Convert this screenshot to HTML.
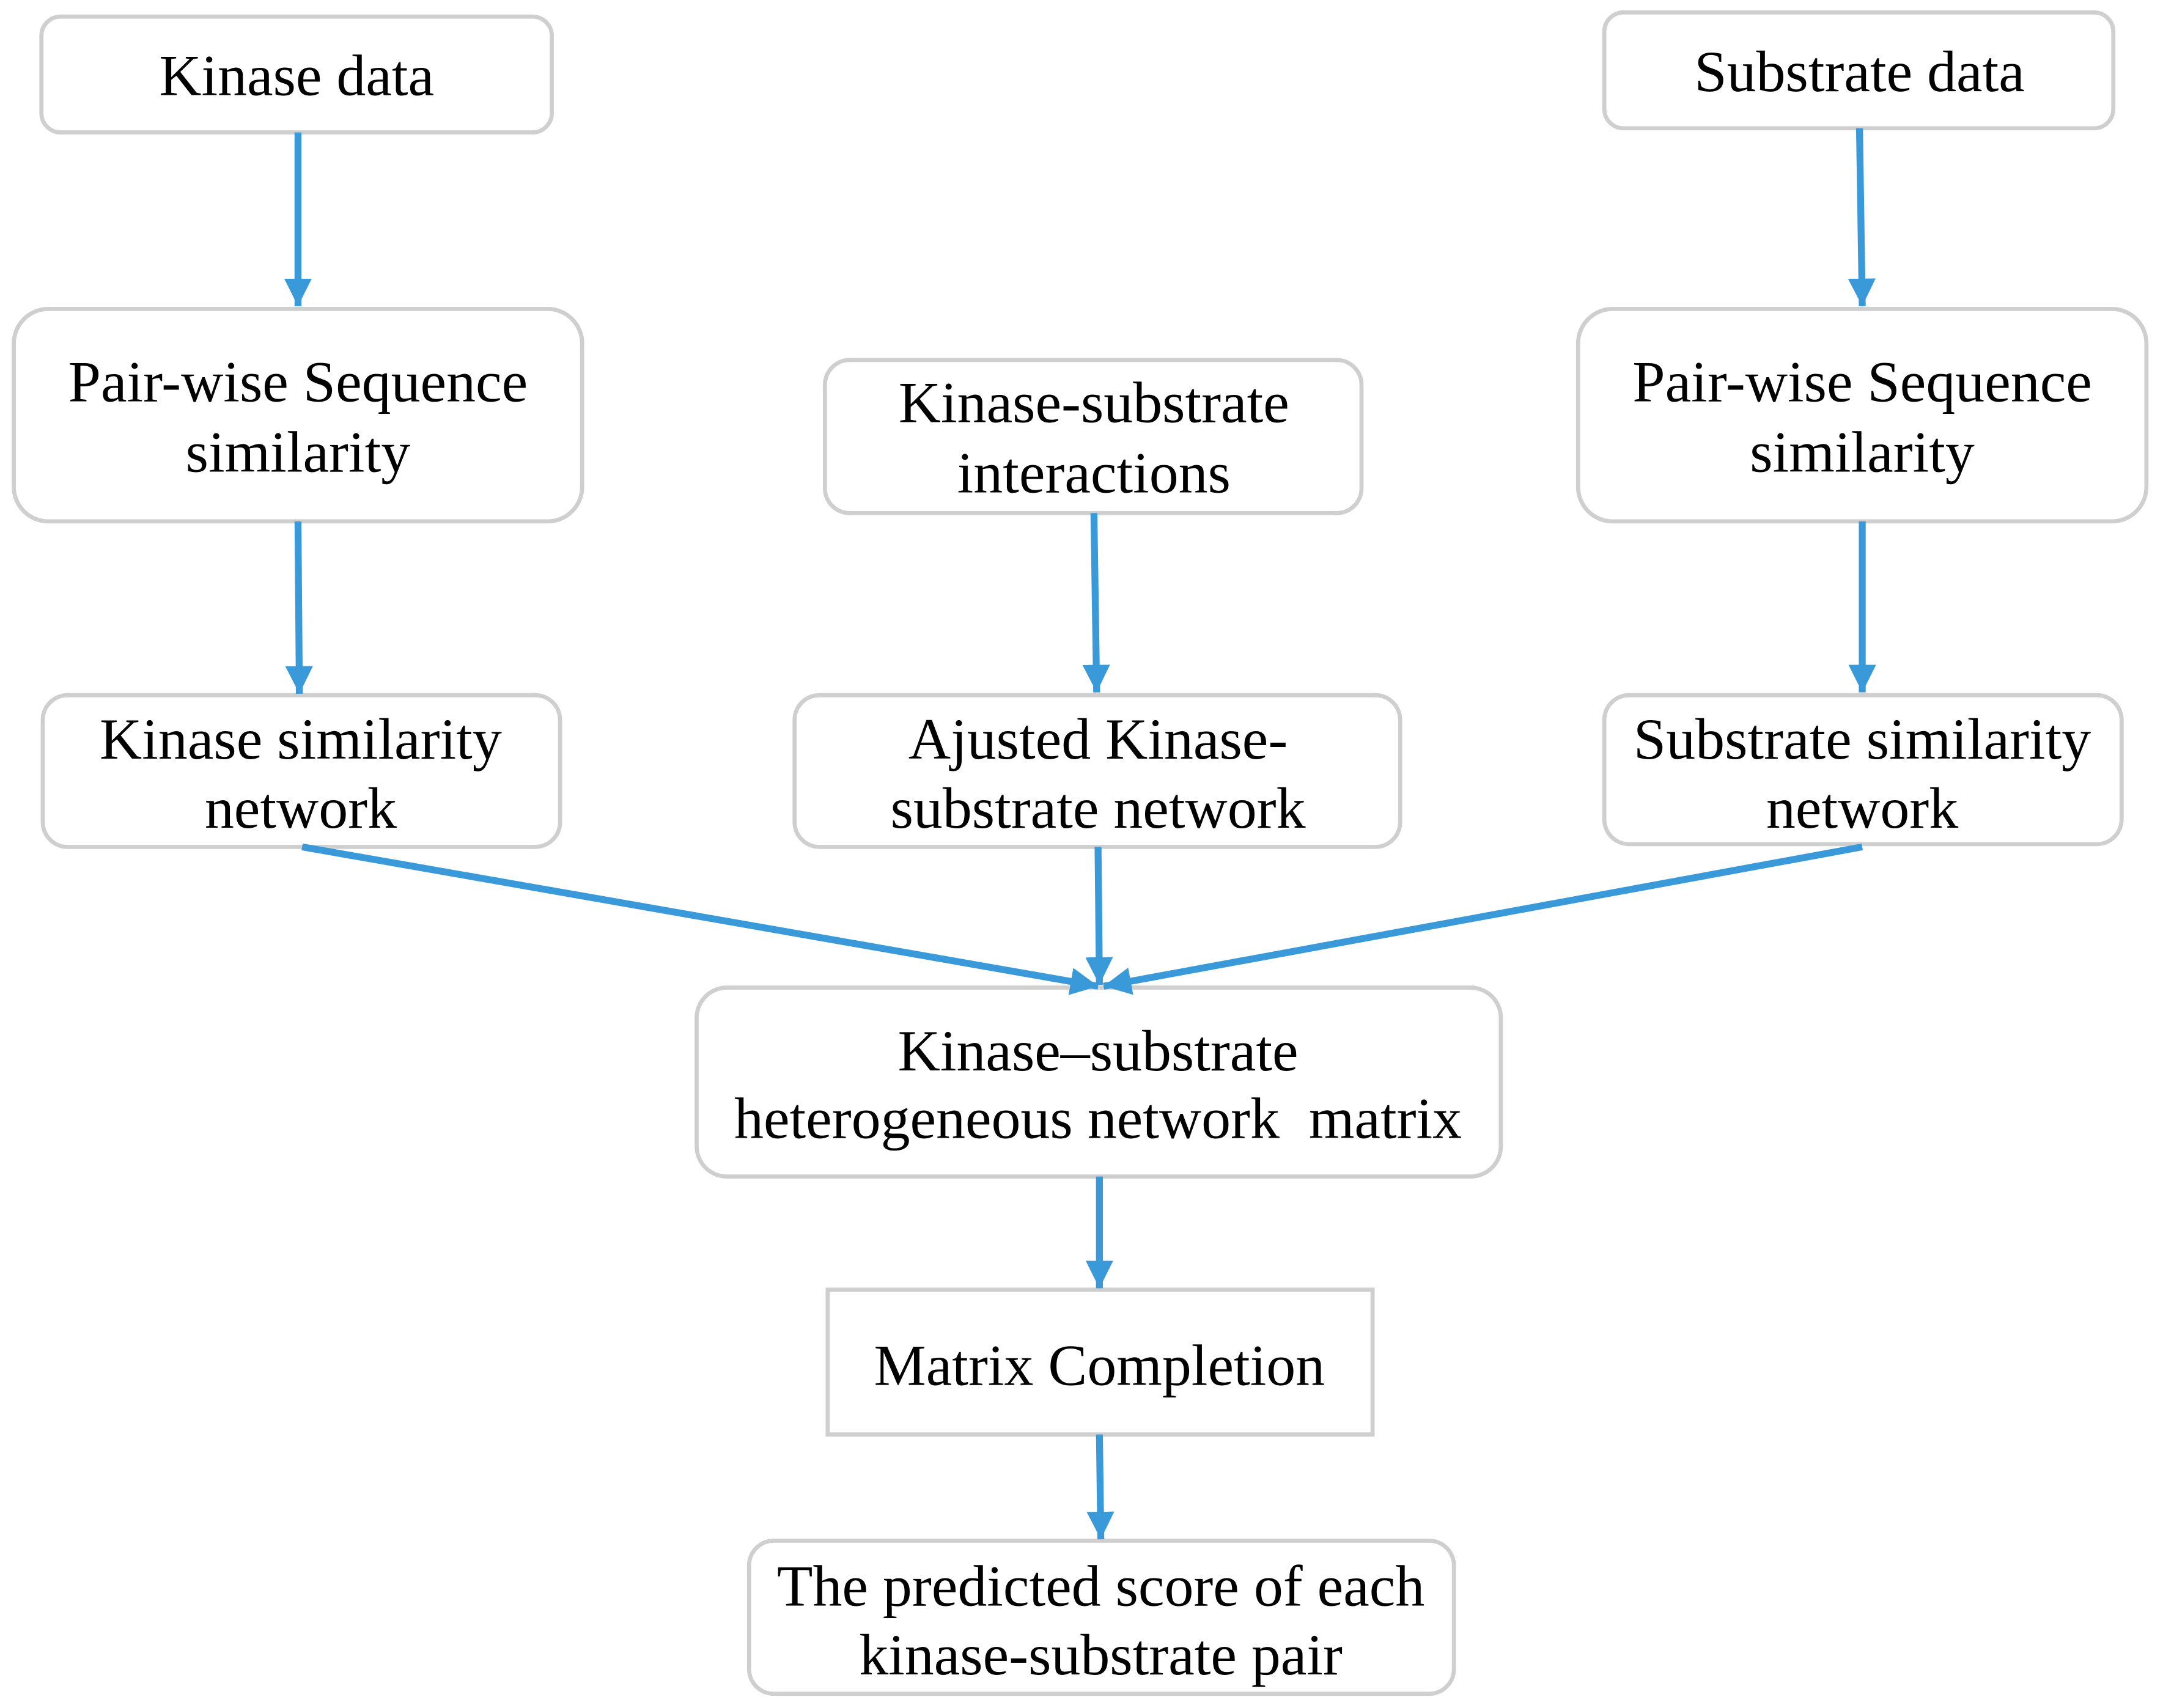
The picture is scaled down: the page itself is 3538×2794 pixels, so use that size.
<!DOCTYPE html>
<html><head><meta charset="utf-8"><style>html,body{margin:0;padding:0;background:#fff}svg{display:block}</style></head>
<body>
<svg width="3538" height="2794" viewBox="0 0 1568 1238.3" xmlns="http://www.w3.org/2000/svg">
<defs>
<marker id="a" markerUnits="userSpaceOnUse" markerWidth="22" markerHeight="22" refX="20" refY="10" orient="auto">
<path d="M0,0 L20,10 L0,20 Z" fill="#3a9ad9"/>
</marker>
</defs>
<g fill="#fff" stroke="#cfcfcf" stroke-width="3">
<rect x="30" y="12" width="370" height="84" rx="14"/>
<rect x="1163" y="9" width="369" height="84" rx="14"/>
<rect x="10" y="224" width="412" height="154" rx="25"/>
<rect x="598" y="261" width="389" height="111" rx="18"/>
<rect x="1144" y="224" width="412" height="154" rx="25"/>
<rect x="31" y="504" width="375" height="110" rx="18"/>
<rect x="576" y="504" width="439" height="110" rx="18"/>
<rect x="1163" y="504" width="375" height="108" rx="18"/>
<rect x="505" y="716" width="583" height="137" rx="22"/>
<rect x="600" y="935" width="395" height="105"/>
<rect x="543" y="1117" width="511" height="111" rx="18"/>
</g>
<g stroke="#3a9ad9" stroke-width="5" fill="none" marker-end="url(#a)">
<line x1="216" y1="96" x2="216" y2="222"/>
<line x1="1348" y1="93" x2="1350" y2="222"/>
<line x1="216" y1="378" x2="217" y2="503"/>
<line x1="793" y1="372" x2="795" y2="502"/>
<line x1="1350" y1="378" x2="1350" y2="502"/>
<line x1="219" y1="614" x2="796" y2="715"/>
<line x1="796" y1="614" x2="797" y2="714"/>
<line x1="1350" y1="614" x2="800" y2="715"/>
<line x1="797" y1="853" x2="797" y2="934"/>
<line x1="797" y1="1040" x2="798" y2="1116"/>
</g>
<g font-family="'Liberation Serif', serif" font-size="42.5" fill="#000" text-anchor="middle">
<text x="215" y="69">Kinase data</text>
<text x="1348" y="66">Substrate data</text>
<text x="216" y="291">Pair-wise Sequence</text>
<text x="216" y="342">similarity</text>
<text x="793" y="306">Kinase-substrate</text>
<text x="793" y="357">interactions</text>
<text x="1350" y="291">Pair-wise Sequence</text>
<text x="1350" y="342">similarity</text>
<text x="218" y="550">Kinase similarity</text>
<text x="218" y="600">network</text>
<text x="796" y="550">Ajusted Kinase-</text>
<text x="796" y="600">substrate network</text>
<text x="1350" y="550">Substrate similarity</text>
<text x="1350" y="600">network</text>
<text x="796" y="776">Kinase–substrate</text>
<text x="796" y="825" xml:space="preserve">heterogeneous network  matrix</text>
<text x="797" y="1004">Matrix Completion</text>
<text x="798" y="1164">The predicted score of each</text>
<text x="798" y="1214">kinase-substrate pair</text>
</g>
</svg>
</body></html>
